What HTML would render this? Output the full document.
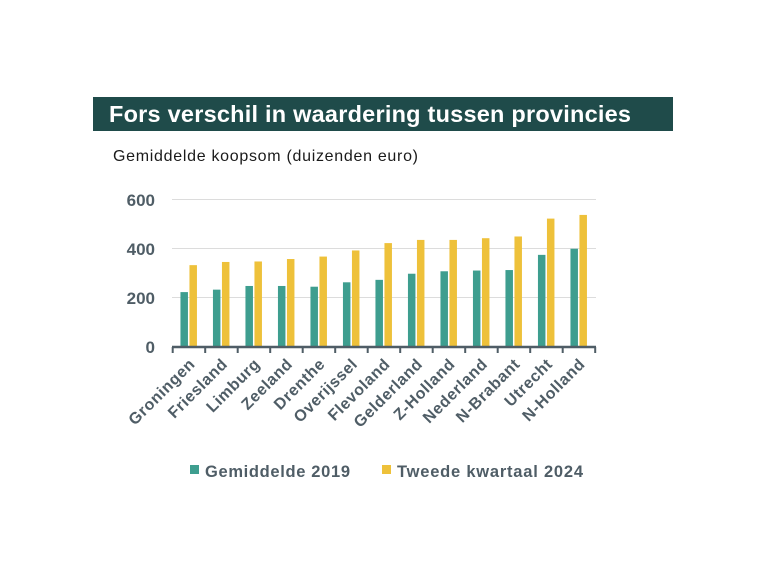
<!DOCTYPE html>
<html><head><meta charset="utf-8"><style>
html,body{margin:0;padding:0;background:#fff;}
svg{display:block;}
</style></head><body>
<svg width="768" height="588" xmlns="http://www.w3.org/2000/svg" font-family="Liberation Sans, sans-serif">
<rect x="0" y="0" width="768" height="588" fill="#fff"/>
<rect x="93" y="97" width="580" height="34" fill="#1f4b4a"/>
<text x="109" y="122" fill="#fff" font-size="23.5" font-weight="bold" textLength="522" lengthAdjust="spacing">Fors verschil in waardering tussen provincies</text>
<text x="113" y="161" fill="#1a1a1a" font-size="16" textLength="305" lengthAdjust="spacing">Gemiddelde koopsom (duizenden euro)</text>
<g stroke="#dcdcdc" stroke-width="1">
<line x1="172" y1="199.5" x2="596" y2="199.5"/>
<line x1="172" y1="248.5" x2="596" y2="248.5"/>
<line x1="172" y1="297.5" x2="596" y2="297.5"/>
</g>
<g fill="#4f5d66" font-size="17" font-weight="bold" text-anchor="end">
<text x="155" y="206">600</text>
<text x="155" y="255">400</text>
<text x="155" y="304">200</text>
<text x="155" y="353">0</text>
</g>
<g id="bars"></g>
<line x1="172" y1="347" x2="596" y2="347" stroke="#4f5d66" stroke-width="2.5"/>
<g id="ticks" stroke="#4f5d66" stroke-width="2"></g>
<g id="labels" fill="#4f5d66" font-size="16" font-weight="bold" text-anchor="end" letter-spacing="0.6"></g>
<rect x="190" y="465" width="9" height="9" fill="#3e9e8f"/>
<text x="205" y="477" fill="#4f5d66" font-size="16.5" font-weight="bold" textLength="145" lengthAdjust="spacing">Gemiddelde 2019</text>
<rect x="382" y="465" width="9" height="9" fill="#eec13a"/>
<text x="397" y="477" fill="#4f5d66" font-size="16.5" font-weight="bold" textLength="186" lengthAdjust="spacing">Tweede kwartaal 2024</text>
<script>
var ns="http://www.w3.org/2000/svg";
var names=["Groningen","Friesland","Limburg","Zeeland","Drenthe","Overijssel","Flevoland","Gelderland","Z-Holland","Nederland","N-Brabant","Utrecht","N-Holland"];
var a=[220,230,245,245,242,260,270,295,305,308,310,372,397];
var b=[330,343,345,355,365,390,420,433,433,440,447,520,535];
var x0=172.7,step=32.5,base=346,k=147/600;
var bars=document.getElementById("bars"),ticks=document.getElementById("ticks"),labels=document.getElementById("labels");
function r(x,y,w,h,c){var e=document.createElementNS(ns,"rect");e.setAttribute("x",x);e.setAttribute("y",y);e.setAttribute("width",w);e.setAttribute("height",h);e.setAttribute("fill",c);bars.appendChild(e);}
for(var i=0;i<=13;i++){var l=document.createElementNS(ns,"line");var x=x0+i*step;l.setAttribute("x1",x);l.setAttribute("x2",x);l.setAttribute("y1",347);l.setAttribute("y2",353);ticks.appendChild(l);}
for(var i=0;i<13;i++){var c=x0+i*step+step/2;
r(c-8.5,base-a[i]*k,7.5,a[i]*k,"#3e9e8f");
r(c+0.5,base-b[i]*k,7.5,b[i]*k,"#eec13a");
var t=document.createElementNS(ns,"text");t.setAttribute("transform","translate("+(c+7)+",365) rotate(-45)");t.textContent=names[i];labels.appendChild(t);}
</script>
</svg>
</body></html>
